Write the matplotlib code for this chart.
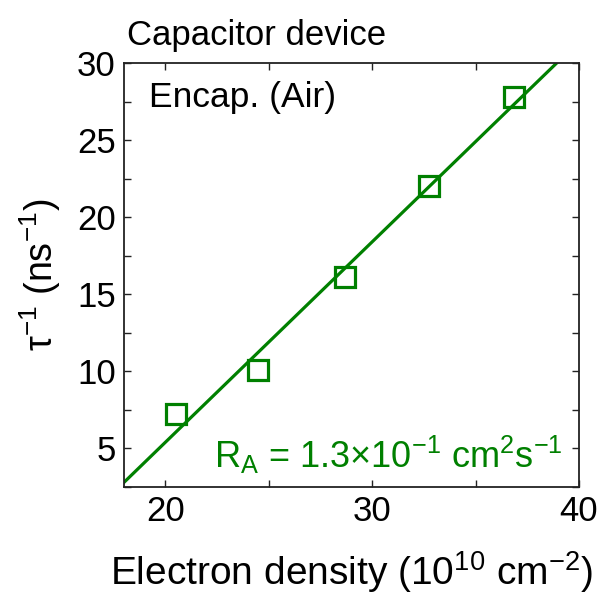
import matplotlib
matplotlib.use("Agg")
import matplotlib.pyplot as plt
import numpy as np
from matplotlib.ticker import MultipleLocator

plt.rcParams['font.family'] = ['Liberation Sans', 'DejaVu Sans']
plt.rcParams['mathtext.fontset'] = 'custom'
plt.rcParams['mathtext.rm'] = 'Liberation Sans'
plt.rcParams['mathtext.it'] = 'Liberation Sans:italic'
plt.rcParams['mathtext.default'] = 'regular'

# Decay rate vs electron density
density = [20.5, 24.5, 28.7, 32.75, 36.84]
inv_tau = [7.25, 10.1, 16.1, 22.0, 27.8]

# Linear fit: slope from R_A = 1.3e-1 cm^2/s -> 1.3 ns^-1 per 1e10 cm^-2
fit_slope = 1.3
fit_intercept = -20.6

green = '#008000'

fig = plt.figure(figsize=(6.0, 5.97), dpi=100)
ax = fig.add_axes([0.2067, 0.1843, 0.7583, 0.7102])

xfit = np.array([18.0, 40.0])
ax.plot(xfit, fit_slope * xfit + fit_intercept, color=green, lw=2.3, zorder=2)
ax.plot(density, inv_tau, linestyle='none', marker='s', markersize=14,
        markerfacecolor='none', markeredgecolor=green, markeredgewidth=2.3, zorder=3)

ax.set_xlim(18, 40)
ax.set_ylim(2.5, 30)
ax.xaxis.set_major_locator(MultipleLocator(10))
ax.xaxis.set_minor_locator(MultipleLocator(5))
ax.yaxis.set_major_locator(MultipleLocator(5))
ax.yaxis.set_minor_locator(MultipleLocator(2.5))
ax.tick_params(which='both', direction='in', top=True, right=True,
               width=1.0, labelsize=25, color='#222222')
ax.tick_params(which='major', length=5, pad=6)
ax.tick_params(which='minor', length=5)
for s in ax.spines.values():
    s.set_linewidth(1.3)
    s.set_color('#222222')

ax.set_xlabel('Electron density (10$^{10}$ cm$^{\u2212 2}$)', fontsize=28, labelpad=15)
ax.set_ylabel('\u03c4$^{\u22121}$ (ns$^{\u22121}$)', fontsize=27, labelpad=10)

ax.text(0.055, 0.896, 'Encap. (Air)', transform=ax.transAxes, fontsize=25.5,
        ha='left', va='baseline')
ax.text(0.965, 0.045, 'R$_{A}$ = 1.3\u00d710$^{\u22121}$ cm$^{2}$s$^{\u22121}$',
        transform=ax.transAxes, fontsize=26, color=green, ha='right', va='baseline')
fig.text(127 / 600, 1 - 45 / 597, 'Capacitor device', fontsize=25,
         ha='left', va='baseline')

fig.savefig('out.png', dpi=100)
